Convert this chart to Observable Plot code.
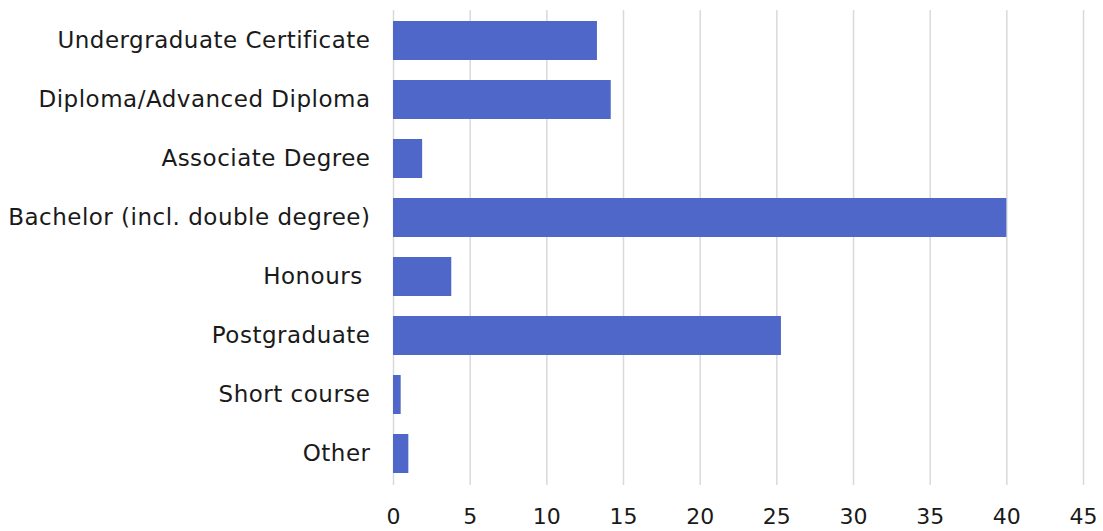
<!DOCTYPE html>
<html>
<head>
<meta charset="utf-8">
<script src="https://cdn.jsdelivr.net/npm/d3@7"></script>
<script src="https://cdn.jsdelivr.net/npm/@observablehq/plot@0.6"></script>
<style>
  html, body { margin: 0; padding: 0; background: #fff; }
  svg text { white-space: pre; }
  .yax text { letter-spacing: 0.5px; }
</style>
</head>
<body>
<div id="chart"></div>
<script>
const categories = [
  "Undergraduate Certificate",
  "Diploma/Advanced Diploma",
  "Associate Degree",
  "Bachelor (incl. double degree)",
  "Honours ",
  "Postgraduate",
  "Short course",
  "Other"
];
const values = [13.3, 14.2, 1.9, 40.0, 3.8, 25.3, 0.5, 1.0];
const xTicks = [0, 5, 10, 15, 20, 25, 30, 35, 40, 45];

const data = categories.map((c, i) => ({category: c, value: values[i]}));

const chart = Plot.plot({
  width: 1103,
  height: 531,
  marginTop: 10,
  marginBottom: 46,
  marginLeft: 393,
  marginRight: 20,
  style: {fontFamily: "'DejaVu Sans', sans-serif", fontSize: "22px", color: "#1a1a1a", background: "#fff"},
  x: {domain: [0, 45], ticks: xTicks, label: null},
  y: {domain: categories, paddingInner: 0.335, paddingOuter: 0.1675, label: null},
  marks: [
    Plot.gridX(xTicks, {stroke: "#d9d9d9", strokeOpacity: 1, strokeWidth: 1.5}),
    Plot.barX(data, {x: "value", y: "category", fill: "#4e67c8"}),
    Plot.axisX(xTicks, {tickSize: 0, tickPadding: 23, fontSize: 22, label: null}),
    Plot.axisY({tickSize: 0, tickPadding: 23, fontSize: 23, label: null, className: "yax"})
  ]
});
document.getElementById("chart").appendChild(chart);
</script>
</body>
</html>
